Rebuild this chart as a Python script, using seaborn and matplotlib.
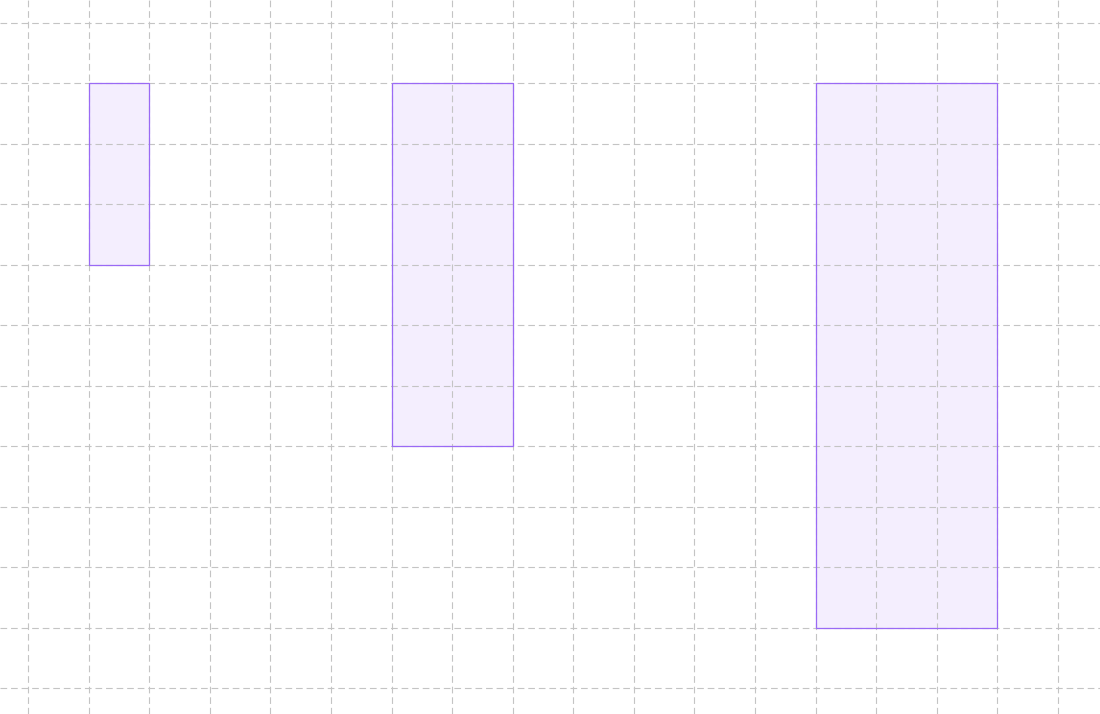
import matplotlib

matplotlib.use("Agg")
import matplotlib.pyplot as plt
import seaborn as sns

# Rectangles hanging from a common top line, in grid units
rect_left = [1, 6, 13]
rect_width = [1, 2, 3]
rect_height = [3, 6, 9]

grid_x = list(range(0, 18))
grid_y = list(range(-1, 11))

sns.set_theme(style="white")

fig = plt.figure(figsize=(11, 7.14), dpi=100)
ax = fig.add_axes([0, 0, 1, 1])

# fill below the grid, outline above it
ax.bar(rect_left, rect_height, width=rect_width, align="edge",
       color="#f4eefe", linewidth=0, zorder=1)
ax.bar(rect_left, rect_height, width=rect_width, align="edge",
       fill=False, edgecolor="#9a6af5", linewidth=0.9, zorder=3)

ax.set_xlim(-28 / 60.59, (1100 - 28) / 60.59)
ax.set_ylim((714 - 23) / 60.45 - 1, -23 / 60.45 - 1)

ax.set_xticks(grid_x)
ax.set_yticks(grid_y)
ax.set_xticklabels([])
ax.set_yticklabels([])
ax.tick_params(length=0)
ax.grid(True, color="#c4c4c4", linestyle=(0, (6, 3.5)), linewidth=0.8, zorder=2)
ax.set_axisbelow(False)
for s in ax.spines.values():
    s.set_visible(False)

fig.savefig("out.png", dpi=100)
